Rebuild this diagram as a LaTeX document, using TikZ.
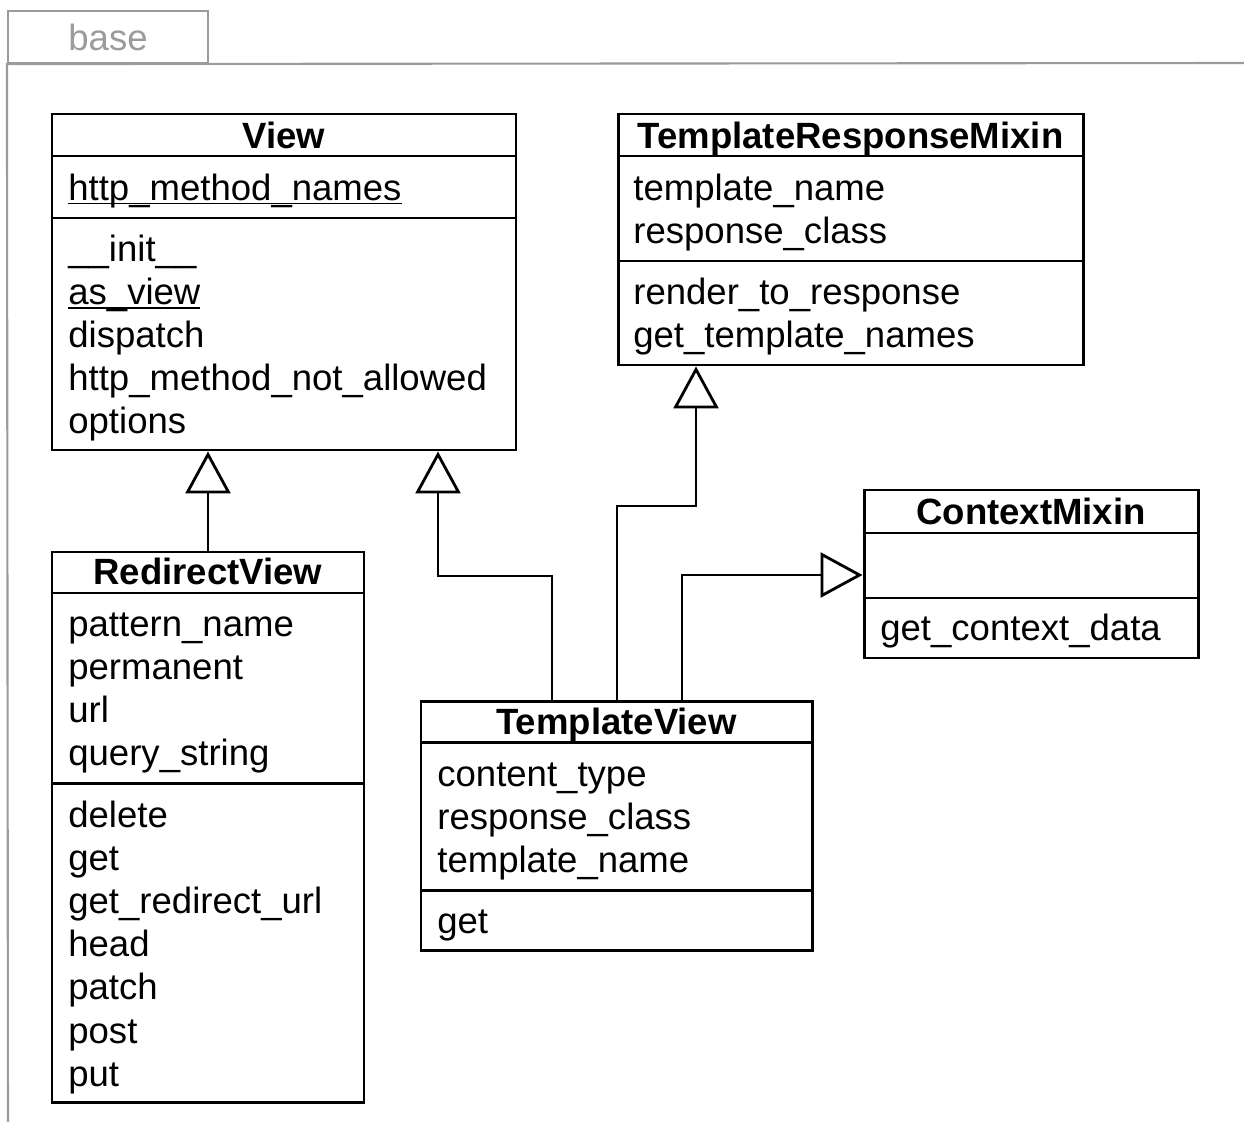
\documentclass[tikz,border=0pt]{standalone}
\usepackage{fontspec}
\setmainfont{Liberation Sans}
\usetikzlibrary{arrows.meta,fit}
\definecolor{pkggrey}{HTML}{9B9B9B}
\newcommand{\umlfont}{\fontsize{20.8pt}{24.6pt}\selectfont}
\newcommand{\clsstatic}[1]{\leavevmode\setbox0=\hbox{#1}\rlap{\rule[-0.12em]{\wd0}{0.05em}}\box0}

\begin{document}
\begin{tikzpicture}[x=0.02cm, y=-0.02cm, font=\umlfont,
    classbox/.style={draw, line width=1.7pt, inner sep=0pt},
    classname/.style={anchor=base, inner sep=0pt, font=\umlfont\bfseries},
    members/.style={anchor=base west, inner sep=0pt, text width=9cm, align=left},
    compsep/.style={line width=1.7pt},
    inherit/.style={line width=1.6pt, -{Triangle[open, length=0.84cm, width=0.9cm]}},
    pkgframe/.style={draw=pkggrey, line width=1.2pt}]
    \useasboundingbox (0,0) rectangle (1244,1122);

    % package frame
    \node[pkgframe, inner sep=0pt, fit={(8,11) (208,63)}] (pkgtab) {};
    \node[anchor=base, inner sep=0pt, text=pkggrey] (pkgname) at (108,51) {base};
    \draw[pkgframe] (1260,63) -- (pkgtab.south west) -- (8,1140);

    % View
    \node[classbox, fit={(52,114) (516,450)}] (view) {};
    \node[classname] (viewname) at (view.north |- 0,149) {View};
    \draw[compsep] (view.west |- 0,156) -- (view.east |- 0,156);
    \draw[compsep] (view.west |- 0,218) -- (view.east |- 0,218);
    \node[members] (viewattr) at (68,200) {\clsstatic{http\_method\_names}};
    \node[members] (viewops) at (68,261) {\_\_init\_\_\\ \clsstatic{as\_view}\\ dispatch\\
        http\_method\_not\_allowed\\ options};

    % TemplateResponseMixin
    \node[classbox, fit={(618,114) (1083,365)}] (trm) {};
    \node[classname] (trmname) at (trm.north |- 0,149) {TemplateResponseMixin};
    \draw[compsep] (trm.west |- 0,156) -- (trm.east |- 0,156);
    \draw[compsep] (trm.west |- 0,261) -- (trm.east |- 0,261);
    \node[members] (trmattr) at (633,200) {template\_name\\ response\_class};
    \node[members] (trmops) at (633,304) {render\_to\_response\\ get\_template\_names};

    % ContextMixin
    \node[classbox, fit={(864,490) (1198,658)}] (ctx) {};
    \node[classname] (ctxname) at (ctx.north |- 0,524) {ContextMixin};
    \draw[compsep] (ctx.west |- 0,533) -- (ctx.east |- 0,533);
    \draw[compsep] (ctx.west |- 0,598) -- (ctx.east |- 0,598);
    \node[members] (ctxops) at (880,640) {get\_context\_data};

    % RedirectView
    \node[classbox, fit={(52,552) (364,1102)}] (redirect) {};
    \node[classname] (redirectname) at (redirect.north |- 0,584) {RedirectView};
    \draw[compsep] (redirect.west |- 0,593) -- (redirect.east |- 0,593);
    \draw[compsep] (redirect.west |- 0,783) -- (redirect.east |- 0,783);
    \node[members] (redirectattr) at (68,636) {pattern\_name\\ permanent\\ url\\ query\_string};
    \node[members] (redirectops) at (68,827) {delete\\ get\\ get\_redirect\_url\\ head\\
        patch\\ post\\ put};

    % TemplateView
    \node[classbox, fit={(421,701) (812,950)}] (tview) {};
    \node[classname] (tviewname) at (tview.north |- 0,734) {TemplateView};
    \draw[compsep] (tview.west |- 0,742) -- (tview.east |- 0,742);
    \draw[compsep] (tview.west |- 0,890) -- (tview.east |- 0,890);
    \node[members] (tviewattr) at (437,786) {content\_type\\ response\_class\\ template\_name};
    \node[members] (tviewops) at (437,933) {get};

    % generalisations
    \draw[inherit] (redirect.north) -- (redirect.north |- view.south);
    \draw[inherit] (tview.north -| 552,0) |- (438,576) -- (view.south -| 438,0);
    \draw[inherit] (tview.north -| 617,0) |- (696,506) -- (trm.south -| 696,0);
    \draw[inherit] (tview.north -| 682,0) |- (ctx.west |- 0,575);
\end{tikzpicture}
\end{document}
